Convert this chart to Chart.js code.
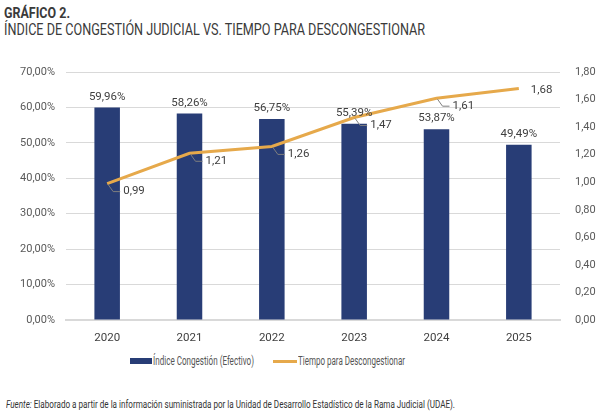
<!DOCTYPE html>
<html>
<head>
<meta charset="utf-8">
<script src="https://cdn.jsdelivr.net/npm/chart.js@4/dist/chart.umd.min.js"></script>
<style>
    body { margin: 0; width: 601px; height: 414px; background: #fff; overflow: hidden; position: relative;
           font-family: Roboto, 'Liberation Sans', sans-serif; color: #333; }
    .ajustar { position: absolute; white-space: nowrap; transform-origin: 0 50%; }
    #tit1 { left: 4px; top: 4px; font-size: 15px; font-weight: bold; color: #3a3a3a; }
    #tit2 { left: 4px; top: 20px; font-size: 16px; color: #3a3a3a; }
    #lienzo { position: absolute; left: 0; top: 50px; width: 601px; height: 300px; }
    #fuente { left: 6px; top: 399px; font-size: 10px; color: #333; }
    .leyenda { position: absolute; top: 354px; height: 14px; font-size: 12px; line-height: 14px; color: #555; }
    .caja { position: absolute; top: 358px; height: 6px; width: 22px; }
    .raya { position: absolute; top: 360px; height: 3px; width: 24px; }
</style>
</head>
<body>
<div id="tit1" class="ajustar" data-ancho="66">GRÁFICO 2.</div>
<div id="tit2" class="ajustar" data-ancho="421">ÍNDICE DE CONGESTIÓN JUDICIAL VS. TIEMPO PARA DESCONGESTIONAR</div>
<div id="lienzo"><canvas id="grafico"></canvas></div>

<div class="caja" style="left:130px; background:#283d76"></div>
<div class="leyenda ajustar" style="left:153px" data-ancho="101">Índice Congestión (Efectivo)</div>
<div class="raya" style="left:273px; background:#e6a94b"></div>
<div class="leyenda ajustar" style="left:298px" data-ancho="107">Tiempo para Descongestionar</div>

<div id="fuente" class="ajustar" data-ancho="449"><i>Fuente:</i> Elaborado a partir de la información suministrada por la Unidad de Desarrollo Estadístico de la Rama Judicial (UDAE).</div>

<script>
// Datos
const anios = ['2020', '2021', '2022', '2023', '2024', '2025'];
const indiceCongestion = [59.96, 58.26, 56.75, 55.39, 53.87, 49.49];
const tiempoDescongestion = [0.99, 1.21, 1.26, 1.47, 1.61, 1.68];
const ticksPorcentaje = [0, 10, 20, 30, 40, 50, 60, 70];
const ticksTiempo = [0, 0.2, 0.4, 0.6, 0.8, 1.0, 1.2, 1.4, 1.6, 1.8];

const FUENTE = "Roboto, 'Liberation Sans', sans-serif";
const AZUL = '#283d76';
const DORADO = '#e6a94b';

const coma = (v, d) => v.toFixed(d).replace('.', ',');

// la tipografía original es condensada: se estrechan los textos HTML a su ancho
document.querySelectorAll('.ajustar').forEach(el => {
    const ancho = el.getBoundingClientRect().width;
    el.style.transform = 'scaleX(' + (el.dataset.ancho / ancho) + ')';
});

// Etiquetas de datos: porcentajes sobre las barras, tiempos con línea guía
const etiquetas = {
    id: 'etiquetas',
    afterDatasetsDraw(chart) {
        const ctx = chart.ctx;
        ctx.save();
        ctx.font = '11.5px ' + FUENTE;
        ctx.fillStyle = '#404040';

        ctx.textAlign = 'center';
        ctx.textBaseline = 'bottom';
        chart.getDatasetMeta(0).data.forEach((barra, i) => {
            ctx.fillText(coma(indiceCongestion[i], 2) + '%', barra.x, barra.y - 5);
        });

        ctx.textAlign = 'left';
        ctx.textBaseline = 'middle';
        const puntos = chart.getDatasetMeta(1).data;
        puntos.forEach((p, i) => {
            const texto = coma(tiempoDescongestion[i], 2);
            if (i === puntos.length - 1) {
                ctx.fillText(texto, p.x + 12, p.y + 2);
                return;
            }
            ctx.strokeStyle = '#7f7f7f';
            ctx.lineWidth = 1;
            ctx.beginPath();
            ctx.moveTo(p.x + 1, p.y + 1);
            ctx.lineTo(p.x + 6, p.y + 8);
            ctx.lineTo(p.x + 13, p.y + 8);
            ctx.stroke();
            ctx.fillText(texto, p.x + 16, p.y + 8);
        });
        ctx.restore();
    }
};

new Chart(document.getElementById('grafico'), {
    data: {
        labels: anios,
        datasets: [
            {
                type: 'bar',
                label: 'Índice Congestión (Efectivo)',
                data: indiceCongestion,
                backgroundColor: AZUL,
                yAxisID: 'y',
                order: 2,
                barPercentage: 0.62,
                categoryPercentage: 0.5
            },
            {
                type: 'line',
                label: 'Tiempo para Descongestionar',
                data: tiempoDescongestion,
                borderColor: DORADO,
                backgroundColor: DORADO,
                borderWidth: 3,
                pointRadius: 0,
                tension: 0,
                yAxisID: 'y1',
                order: 1
            }
        ]
    },
    options: {
        responsive: true,
        maintainAspectRatio: false,
        animation: false,
        layout: { padding: { top: 22, bottom: 0 } },
        plugins: {
            legend: { display: false },
            tooltip: { enabled: false }
        },
        scales: {
            x: {
                grid: { display: false },
                border: { color: '#d9d9d9', width: 2 },
                afterFit: eje => { eje.height = 30; },
                ticks: { font: { family: FUENTE, size: 11.5 }, color: '#404040', padding: 3 }
            },
            y: {
                position: 'left',
                min: 0,
                max: 70,
                afterBuildTicks: eje => { eje.ticks = ticksPorcentaje.map(v => ({ value: v })); },
                afterFit: eje => { eje.width = 66; },
                grid: { color: '#d9d9d9', drawTicks: false },
                border: { display: false },
                ticks: {
                    font: { family: FUENTE, size: 11 },
                    color: '#595959',
                    padding: 11,
                    callback: v => coma(v, 2) + '%'
                }
            },
            y1: {
                position: 'right',
                min: 0,
                max: 1.8,
                afterBuildTicks: eje => { eje.ticks = ticksTiempo.map(v => ({ value: v })); },
                afterFit: eje => { eje.width = 41; },
                grid: { display: false },
                border: { display: false },
                ticks: {
                    font: { family: FUENTE, size: 11 },
                    color: '#595959',
                    padding: 7,
                    callback: v => coma(v, 2)
                }
            }
        }
    },
    plugins: [etiquetas]
});
</script>
</body>
</html>
